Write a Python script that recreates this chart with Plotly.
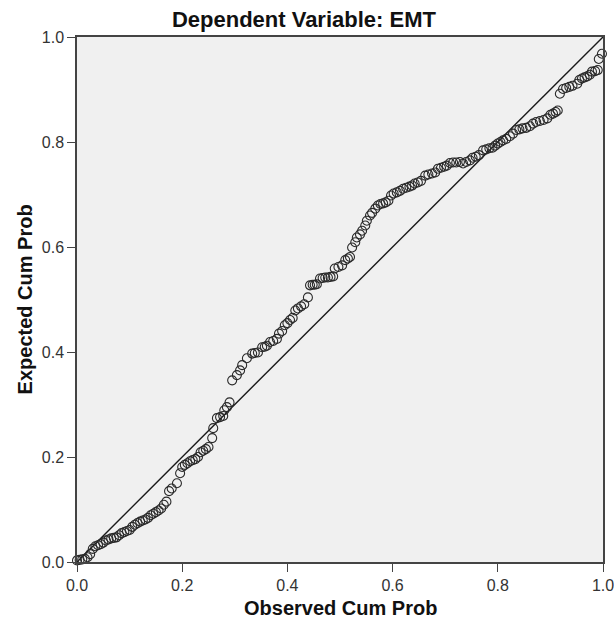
import plotly.graph_objects as go

observed = [0.000,0.005,0.010,0.015,0.020,0.025,0.030,0.035,0.040,0.045,0.050,0.055,0.060,0.065,0.070,0.075,0.080,0.085,0.090,0.095,
0.100,0.105,0.110,0.115,0.120,0.125,0.130,0.135,0.140,0.145,0.150,0.155,0.160,0.165,0.170,0.175,0.180,0.190,0.196,0.200,
0.205,0.210,0.215,0.220,0.225,0.230,0.235,0.240,0.245,0.250,0.257,0.259,0.266,0.272,0.278,0.280,0.285,0.290,0.295,0.304,
0.310,0.314,0.323,0.333,0.338,0.344,0.352,0.357,0.361,0.367,0.373,0.380,0.384,0.390,0.395,0.400,0.405,0.410,0.415,0.420,
0.426,0.432,0.439,0.443,0.448,0.452,0.456,0.462,0.467,0.472,0.477,0.482,0.487,0.490,0.497,0.504,0.510,0.515,0.519,0.523,
0.529,0.532,0.538,0.542,0.548,0.551,0.557,0.561,0.567,0.572,0.577,0.582,0.587,0.592,0.597,0.602,0.608,0.614,0.620,0.626,
0.632,0.637,0.642,0.648,0.654,0.662,0.668,0.675,0.681,0.686,0.692,0.698,0.703,0.709,0.715,0.721,0.728,0.734,0.740,0.747,
0.752,0.758,0.764,0.772,0.778,0.784,0.790,0.795,0.800,0.805,0.810,0.816,0.823,0.829,0.835,0.841,0.847,0.854,0.861,0.867,
0.873,0.880,0.887,0.894,0.900,0.905,0.910,0.914,0.918,0.924,0.930,0.936,0.942,0.951,0.955,0.960,0.965,0.970,0.975,0.979,
0.985,0.990,0.992,0.998]

expected = [0.003,0.004,0.005,0.006,0.009,0.015,0.025,0.030,0.032,0.034,0.037,0.041,0.043,0.045,0.046,0.047,0.051,0.055,0.057,0.059,
0.061,0.067,0.071,0.074,0.077,0.079,0.081,0.084,0.089,0.092,0.095,0.098,0.102,0.109,0.115,0.135,0.140,0.150,0.169,0.181,
0.185,0.188,0.192,0.194,0.196,0.200,0.209,0.212,0.215,0.219,0.236,0.255,0.274,0.276,0.278,0.289,0.295,0.304,0.346,0.356,
0.365,0.375,0.388,0.397,0.398,0.399,0.409,0.410,0.412,0.419,0.421,0.425,0.435,0.440,0.451,0.455,0.461,0.465,0.479,0.483,
0.487,0.491,0.504,0.527,0.528,0.528,0.529,0.540,0.541,0.542,0.542,0.543,0.544,0.559,0.562,0.565,0.575,0.578,0.581,0.599,
0.609,0.618,0.624,0.631,0.641,0.650,0.660,0.665,0.673,0.679,0.682,0.683,0.685,0.688,0.698,0.702,0.704,0.707,0.711,0.713,
0.715,0.717,0.721,0.723,0.726,0.736,0.738,0.740,0.742,0.749,0.751,0.753,0.755,0.760,0.761,0.761,0.762,0.759,0.762,0.765,
0.770,0.772,0.775,0.784,0.786,0.788,0.789,0.793,0.797,0.800,0.803,0.806,0.811,0.816,0.823,0.824,0.826,0.827,0.830,0.835,
0.838,0.840,0.842,0.845,0.852,0.854,0.857,0.860,0.892,0.901,0.903,0.905,0.907,0.911,0.918,0.921,0.923,0.925,0.928,0.934,
0.935,0.937,0.958,0.968]

ref_line = [0.0, 1.0]
tick_vals = [0.0, 0.2, 0.4, 0.6, 0.8, 1.0]
tick_text = ["0.0", "0.2", "0.4", "0.6", "0.8", "1.0"]

FONT = "Liberation Sans, Arial, sans-serif"

fig = go.Figure()
fig.add_trace(go.Scatter(x=ref_line, y=ref_line, mode="lines",
                         line=dict(color="#1a1a1a", width=1.4), showlegend=False, hoverinfo="skip"))
fig.add_trace(go.Scatter(x=observed, y=expected, mode="markers",
                         marker=dict(symbol="circle-open", size=9, color="#2a2a2a", line=dict(width=1.1)),
                         showlegend=False, cliponaxis=False))

axis_common = dict(range=[0, 1], tickvals=tick_vals, ticktext=tick_text, showgrid=False, zeroline=False,
                   showline=True, linecolor="#444444", linewidth=1.5, mirror=True,
                   ticks="outside", ticklen=8, tickcolor="#444444", tickwidth=1.3,
                   automargin=False, ticklabeloverflow="allow",
                   tickfont=dict(family=FONT, size=16, color="#333333"))

fig.update_xaxes(**axis_common)
fig.update_yaxes(**axis_common)

fig.update_layout(
    width=614, height=626,
    margin=dict(l=77, r=11, t=37, b=64, autoexpand=False),
    paper_bgcolor="white", plot_bgcolor="#f0f0f0",
    title=dict(text="<b>Dependent Variable: EMT</b>", x=0.495, xanchor="center",
               yref="container", y=1 - 19 / 626, yanchor="middle",
               font=dict(family=FONT, size=22, color="#111111")),
    annotations=[
        dict(text="<b>Observed Cum Prob</b>", xref="paper", yref="paper", x=0.5, y=-0.088,
             xanchor="center", yanchor="middle", showarrow=False,
             font=dict(family=FONT, size=20, color="#111111")),
        dict(text="<b>Expected Cum Prob</b>", xref="paper", yref="paper", x=-0.099, y=0.5,
             xanchor="center", yanchor="middle", showarrow=False, textangle=-90,
             font=dict(family=FONT, size=20, color="#111111")),
    ],
)

fig.write_html("out.html", config={"displayModeBar": False},
               post_script="document.body.style.margin='0';document.body.style.overflow='hidden';")
